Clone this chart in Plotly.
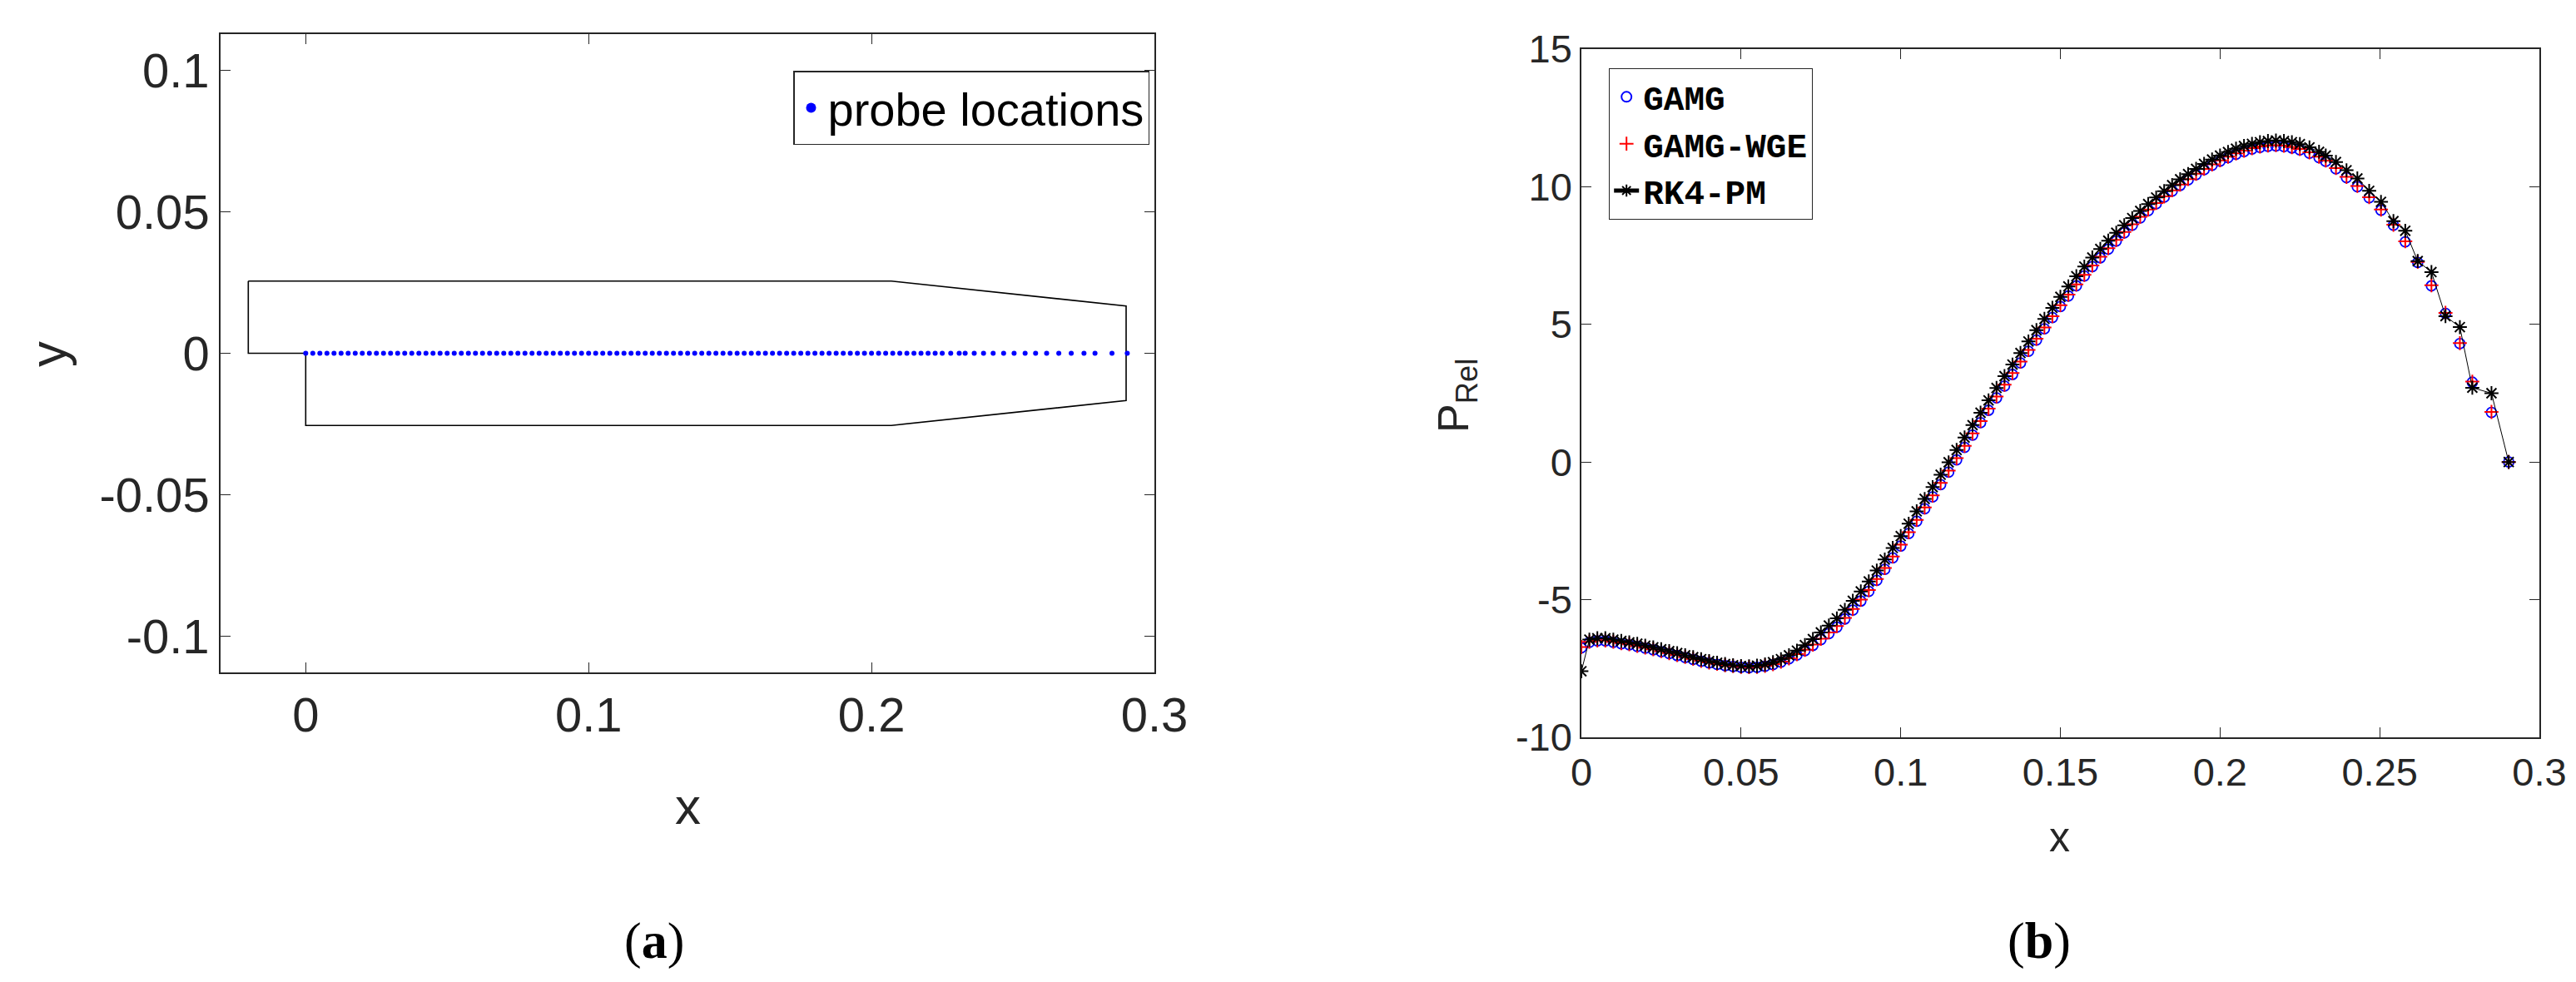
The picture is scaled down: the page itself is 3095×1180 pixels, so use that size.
import plotly.graph_objects as go

# ---------------- data ----------------
x_probe = [0, .0025, .005, .0075, .01, .0125, .015, .0175, .02, .0225, .025, .0275, .03, .0325, .035, .0375,
           .04, .0425, .045, .0475, .05, .0525, .055, .0575, .06, .0625, .065, .0675, .07, .0725, .075, .0775,
           .08, .0825, .085, .0875, .09, .0925, .095, .0975, .1, .1025, .105, .1075, .11, .1125, .115, .1175,
           .12, .1225, .125, .1275, .13, .1325, .135, .1375, .14, .1425, .145, .1475, .15, .1525, .155, .1575,
           .16, .1625, .165, .1675, .17, .1725, .175, .1775, .18, .1825, .185, .1875, .19, .1925, .195, .1975,
           .2, .2025, .205, .2075, .21, .2125, .215, .2175, .22, .2225, .225, .228, .231, .2331, .2363, .2396,
           .243, .2467, .2504, .2543, .258, .2619, .2662, .2706, .2751, .279, .285, .2904]

p_gamg = [-6.75, -6.55, -6.5, -6.5, -6.55, -6.6, -6.64, -6.7, -6.76, -6.82, -6.89, -6.96, -7.03, -7.1, -7.17, -7.24,
          -7.3, -7.35, -7.4, -7.43, -7.46, -7.47, -7.46, -7.42, -7.36, -7.27, -7.15, -7.01, -6.85, -6.66, -6.45, -6.23,
          -6.0, -5.7, -5.38, -5.05, -4.7, -4.3, -3.9, -3.48, -3.05, -2.6, -2.15, -1.7, -1.27, -0.82, -0.37, 0.08,
          0.53, 0.98, 1.43, 1.88, 2.33, 2.76, 3.18, 3.6, 4.02, 4.43, 4.84, 5.25, 5.65, 6.03, 6.4, 6.76,
          7.1, 7.42, 7.73, 8.03, 8.32, 8.6, 8.87, 9.13, 9.38, 9.62, 9.84, 10.05, 10.25, 10.44, 10.62, 10.78,
          10.93, 11.06, 11.18, 11.28, 11.37, 11.43, 11.47, 11.48, 11.46, 11.41, 11.34, 11.22, 11.06, 10.92, 10.65, 10.33,
          10.0, 9.6, 9.15, 8.6, 8.0, 7.25, 6.4, 5.4, 4.3, 2.9, 1.8, 0.0]

p_wge = [-6.72, -6.53, -6.48, -6.48, -6.53, -6.58, -6.62, -6.68, -6.74, -6.8, -6.87, -6.94, -7.01, -7.08, -7.15, -7.22,
         -7.28, -7.33, -7.38, -7.41, -7.44, -7.45, -7.44, -7.4, -7.34, -7.25, -7.13, -6.98, -6.82, -6.63, -6.42, -6.19,
         -5.96, -5.66, -5.34, -5.0, -4.65, -4.25, -3.85, -3.43, -3.0, -2.55, -2.1, -1.65, -1.21, -0.76, -0.31, 0.14,
         0.59, 1.04, 1.49, 1.94, 2.38, 2.81, 3.23, 3.65, 4.07, 4.48, 4.89, 5.3, 5.7, 6.08, 6.45, 6.8,
         7.14, 7.46, 7.77, 8.07, 8.36, 8.64, 8.91, 9.17, 9.41, 9.65, 9.87, 10.08, 10.28, 10.47, 10.65, 10.81,
         10.96, 11.09, 11.21, 11.31, 11.4, 11.46, 11.5, 11.51, 11.49, 11.44, 11.37, 11.25, 11.09, 10.95, 10.68, 10.36,
         10.03, 9.62, 9.17, 8.62, 8.02, 7.27, 6.42, 5.42, 4.32, 2.92, 1.82, 0.0]

p_rk4 = [-7.6, -6.45, -6.4, -6.4, -6.45, -6.5, -6.55, -6.6, -6.67, -6.73, -6.8, -6.87, -6.94, -7.02, -7.09, -7.16,
         -7.23, -7.29, -7.34, -7.38, -7.41, -7.42, -7.4, -7.35, -7.27, -7.16, -7.02, -6.85, -6.65, -6.43, -6.19, -5.94,
         -5.68, -5.37, -5.04, -4.7, -4.34, -3.94, -3.54, -3.12, -2.69, -2.24, -1.79, -1.34, -0.91, -0.46, -0.01, 0.44,
         0.89, 1.34, 1.79, 2.24, 2.69, 3.12, 3.54, 3.96, 4.38, 4.79, 5.2, 5.6, 6.0, 6.38, 6.75, 7.1,
         7.43, 7.74, 8.04, 8.33, 8.6, 8.86, 9.12, 9.37, 9.61, 9.84, 10.06, 10.27, 10.46, 10.65, 10.83, 10.99,
         11.13, 11.26, 11.38, 11.48, 11.56, 11.62, 11.66, 11.68, 11.66, 11.62, 11.55, 11.43, 11.27, 11.13, 10.9, 10.6,
         10.3, 9.85, 9.45, 8.75, 8.4, 7.3, 6.9, 5.3, 4.9, 2.7, 2.5, 0.0]

y_probe = [0.0] * len(x_probe)

outline_x = [-0.0203, 0.207, 0.29, 0.29, 0.207, 0.0, 0.0, -0.0203, -0.0203]
outline_y = [0.0255, 0.0255, 0.0167, -0.0167, -0.0255, -0.0255, 0.0, 0.0, 0.0255]

xticks_a = [0, 0.1, 0.2, 0.3]
xtick_text_a = ["0", "0.1", "0.2", "0.3"]
yticks_a = [-0.1, -0.05, 0, 0.05, 0.1]
ytick_text_a = ["-0.1", "-0.05", "0", "0.05", "0.1"]
xticks_b = [0, 0.05, 0.1, 0.15, 0.2, 0.25, 0.3]
xtick_text_b = ["0", "0.05", "0.1", "0.15", "0.2", "0.25", "0.3"]
yticks_b = [-10, -5, 0, 5, 10, 15]
ytick_text_b = ["-10", "-5", "0", "5", "10", "15"]

# ---------------- figure ----------------
W, H = 3095, 1180
TXT = "#262626"
NARROW = "Liberation Sans Narrow, Liberation Sans, Arial"

fig = go.Figure()

fig.add_trace(go.Scatter(x=outline_x, y=outline_y, mode="lines", line=dict(color="black", width=1.6),
                         showlegend=False, xaxis="x", yaxis="y", hoverinfo="skip"))
fig.add_trace(go.Scatter(x=x_probe, y=y_probe, mode="markers", name="probe locations",
                         marker=dict(color="blue", size=6), xaxis="x", yaxis="y", legend="legend"))

fig.add_trace(go.Scatter(x=x_probe, y=p_gamg, mode="markers", name="GAMG",
                         marker=dict(symbol="circle-open", color="blue", size=12, line=dict(width=1.8)),
                         xaxis="x2", yaxis="y2", legend="legend2"))
fig.add_trace(go.Scatter(x=x_probe, y=p_wge, mode="markers", name="GAMG-WGE",
                         marker=dict(symbol="cross-thin-open", color="red", size=12, line=dict(width=2, color="red")),
                         xaxis="x2", yaxis="y2", legend="legend2"))
fig.add_trace(go.Scatter(x=x_probe, y=p_rk4, mode="lines+markers", name="RK4-PM",
                         line=dict(color="black", width=1),
                         marker=dict(symbol="asterisk-open", color="black", size=14, line=dict(width=2, color="black")),
                         xaxis="x2", yaxis="y2", legend="legend2"))

axis_common = dict(showgrid=False, zeroline=False, showline=True, linecolor="#262626", linewidth=1.5,
                   mirror="allticks", ticks="inside", ticklen=12, tickwidth=1.2, tickcolor="#262626",
                   automargin=False)

fig.update_layout(
    template="none",
    width=W, height=H, margin=dict(l=0, r=0, t=0, b=0, pad=0),
    paper_bgcolor="white", plot_bgcolor="white",
    xaxis=dict(domain=[257 / W, 1379 / W], range=[-0.0301, 0.3], tickvals=xticks_a, ticktext=xtick_text_a,
               tickfont=dict(family=NARROW, size=58, color=TXT), anchor="y", **axis_common),
    yaxis=dict(domain=[1 - 800 / H, 1 - 33 / H], range=[-0.1128, 0.1128], tickvals=yticks_a, ticktext=ytick_text_a,
               tickfont=dict(family=NARROW, size=58, color=TXT), anchor="x", **axis_common),
    xaxis2=dict(domain=[1892 / W, 3043 / W], range=[0, 0.3], tickvals=xticks_b, ticktext=xtick_text_b,
                tickfont=dict(family=NARROW, size=47, color=TXT), anchor="y2", **axis_common),
    yaxis2=dict(domain=[1 - 878 / H, 1 - 51 / H], range=[-10, 15], tickvals=yticks_b, ticktext=ytick_text_b,
                tickfont=dict(family=NARROW, size=47, color=TXT), anchor="x2", **axis_common),
    legend=dict(x=1373 / W, y=1 - 77 / H, xanchor="right", yanchor="top", bgcolor="white",
                bordercolor="#262626", borderwidth=1.5, font=dict(family=NARROW, size=56, color="black"),
                itemsizing="constant"),
    legend2=dict(x=1925 / W, y=1 - 74 / H, xanchor="left", yanchor="top", bgcolor="white",
                 bordercolor="#262626", borderwidth=1.2, tracegroupgap=0,
                 font=dict(family="Liberation Mono, DejaVu Sans Mono, monospace", size=41, color="black",
                           weight="bold"), itemsizing="constant"),
    showlegend=True,
)

ann = [
    dict(text="x", x=818 / W, y=1 - 960 / H, font=dict(family=NARROW, size=62, color=TXT)),
    dict(text="y", x=49 / W, y=1 - 418 / H, textangle=-90, font=dict(family=NARROW, size=62, color=TXT)),
    dict(text="x", x=2466 / W, y=1 - 998 / H, font=dict(family=NARROW, size=50, color=TXT)),
    dict(text="P<sub>Rel</sub>", x=1742 / W, y=1 - 467 / H, textangle=-90,
         font=dict(family=NARROW, size=52, color=TXT)),
    dict(text="(<b>a</b>)", x=778 / W, y=1 - 1122 / H, font=dict(family="Liberation Serif, serif", size=62, color="black")),
    dict(text="(<b>b</b>)", x=2442 / W, y=1 - 1122 / H, font=dict(family="Liberation Serif, serif", size=62, color="black")),
]
for a in ann:
    a.update(xref="paper", yref="paper", showarrow=False, xanchor="center", yanchor="middle")
fig.update_layout(annotations=ann)

fig.write_html("out.html")
